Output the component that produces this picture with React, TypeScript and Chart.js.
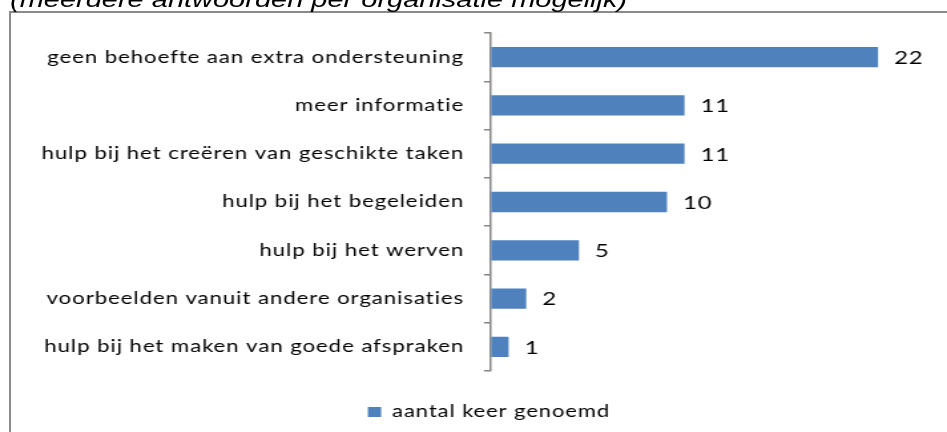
import React, { useEffect, useRef } from "react";
import { Chart, registerables } from "chart.js";

Chart.register(...registerables);

// ---- data ----
const categories = [
  "geen behoefte aan extra ondersteuning",
  "meer informatie",
  "hulp bij het creëren van geschikte taken",
  "hulp bij het begeleiden",
  "hulp bij het werven",
  "voorbeelden vanuit andere organisaties",
  "hulp bij het maken van goede afspraken",
];
const values = [22, 11, 11, 10, 5, 2, 1];
const seriesName = "aantal keer genoemd";
const subtitle = "(meerdere antwoorden per organisatie mogelijk)";
const xMin = 0;
const xMax = 25;

// ---- layout ----
const W = 712; // unscaled width
const H = 432;
const S = 947 / W; // horizontal stretch of the original picture
const LS = 0.7; // letter spacing (px, unscaled)
const AXIS_X = 369.2;
const LEGEND_SHIFT = 17.7;

const spacingPlugin = {
  id: "spacing",
  beforeLayout(chart: any) {
    chart.ctx.letterSpacing = LS + "px";
  },
  afterLayout(chart: any) {
    const lg = chart.legend;
    if (lg) {
      lg.left += LEGEND_SHIFT;
      lg.right += LEGEND_SHIFT;
    }
  },
  beforeDraw(chart: any) {
    chart.ctx.letterSpacing = LS + "px";
  },
};

const valueLabels = {
  id: "valueLabels",
  afterDatasetsDraw(chart: any) {
    const ctx = chart.ctx;
    const meta = chart.getDatasetMeta(0);
    ctx.save();
    ctx.letterSpacing = LS + "px";
    ctx.font = "18px Lato";
    ctx.fillStyle = "#000";
    ctx.textAlign = "left";
    ctx.textBaseline = "middle";
    meta.data.forEach((bar: any, i: number) => {
      ctx.fillText(String(chart.data.datasets[0].data[i]), bar.x + 12, bar.y + 1);
    });
    ctx.restore();
  },
};

export default function App() {
  const ref = useRef<HTMLCanvasElement | null>(null);

  useEffect(() => {
    if (!ref.current) return;
    const chart = new Chart(ref.current, {
      type: "bar",
      data: {
        labels: categories,
        datasets: [
          {
            label: seriesName,
            data: values,
            backgroundColor: "#4F81BD",
            borderWidth: 0,
            categoryPercentage: 1,
            barPercentage: 0.42,
          },
        ],
      },
      options: {
        indexAxis: "y",
        responsive: true,
        maintainAspectRatio: false,
        animation: false,
        layout: { padding: { top: 33, left: 0, right: 12.2, bottom: 1.75 } },
        scales: {
          x: { display: false, min: xMin, max: xMax },
          y: {
            afterFit(scale: any) {
              scale.width = AXIS_X;
            },
            grid: {
              drawOnChartArea: false,
              drawTicks: true,
              tickLength: 5.3,
              color: "#868686",
              lineWidth: 1.5,
              offset: true,
            },
            border: { display: true, color: "#868686", width: 1.5 },
            ticks: {
              color: "#000",
              font: { family: "Lato", size: 16.7 },
              padding: 15,
              autoSkip: false,
            },
          },
        },
        plugins: {
          legend: {
            position: "bottom",
            labels: {
              boxWidth: 10,
              boxHeight: 10,
              padding: 32.75,
              color: "#000",
              font: { family: "Lato", size: 16.5 },
            },
          },
          tooltip: { enabled: false },
        },
      } as any,
      plugins: [spacingPlugin, valueLabels],
    });
    return () => chart.destroy();
  }, []);

  return (
    <div
      style={{
        position: "absolute",
        left: 0,
        top: 0,
        width: 947,
        height: 432,
        overflow: "hidden",
        background: "#fff",
      }}
    >
      <div
        style={{
          position: "absolute",
          left: 9,
          top: 11,
          width: 2000,
          height: 1000,
          borderLeft: "2px solid #8a8a8a",
          borderTop: "2px solid #8a8a8a",
        }}
      />
      <div
        style={{
          position: "absolute",
          left: 0,
          top: 0,
          width: W,
          height: H,
          transform: `scaleX(${S})`,
          transformOrigin: "0 0",
        }}
      >
        <div
          style={{
            position: "absolute",
            left: 7.5,
            top: -11.5,
            fontFamily: "'Liberation Sans', Arial, sans-serif",
            fontStyle: "italic",
            fontSize: "21.8px",
            lineHeight: "21.8px",
            whiteSpace: "nowrap",
            color: "#000",
          }}
        >
          {subtitle}
        </div>
        <div style={{ position: "absolute", left: 0, top: 0, width: W, height: H }}>
          <canvas ref={ref} style={{ display: "block" }} />
        </div>
      </div>
    </div>
  );
}
